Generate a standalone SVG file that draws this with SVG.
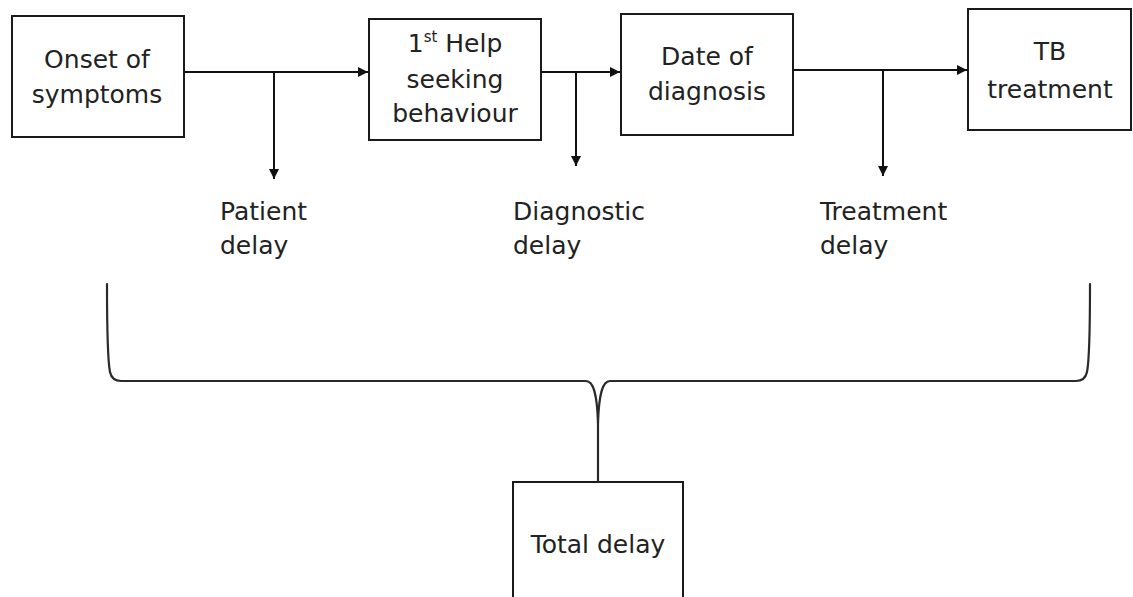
<svg xmlns="http://www.w3.org/2000/svg" width="1133" height="597" viewBox="0 0 1133 597">
  <style>
    .box { fill: #ffffff; stroke: #1a1a1a; stroke-width: 2; }
    .txt { font-family: "DejaVu Sans", "Liberation Sans", sans-serif; font-size: 25px; fill: #222; }
    .mid { text-anchor: middle; }
    .sup { font-size: 15px; }
    .line { fill: none; stroke: #111; stroke-width: 2; }
    .brace { fill: none; stroke: #2a2a2a; stroke-width: 2.2; stroke-linecap: round; stroke-linejoin: round; }
  </style>
  <defs>
    <marker id="arrow" viewBox="0 0 10 10" refX="10" refY="5" markerWidth="5" markerHeight="5" orient="auto" markerUnits="strokeWidth">
      <path d="M0,0 L10,5 L0,10 z" fill="#111"/>
    </marker>
  </defs>
  <rect width="1133" height="597" fill="#ffffff"/>

  <g id="onset">
    <rect class="box" x="12" y="16" width="172" height="121"/>
    <text class="txt mid" x="97" y="68">Onset of</text>
    <text class="txt mid" x="97" y="103">symptoms</text>
  </g>

  <g id="help-seeking">
    <rect class="box" x="369" y="19" width="172" height="121"/>
    <text class="txt mid" x="455" y="52">1<tspan class="sup" dy="-10">st</tspan><tspan dy="10"> Help</tspan></text>
    <text class="txt mid" x="455" y="88">seeking</text>
    <text class="txt mid" x="455" y="122">behaviour</text>
  </g>

  <g id="diagnosis">
    <rect class="box" x="621" y="14" width="172" height="121"/>
    <text class="txt mid" x="707" y="65">Date of</text>
    <text class="txt mid" x="707" y="100">diagnosis</text>
  </g>

  <g id="treatment">
    <rect class="box" x="968" y="9" width="163" height="121"/>
    <text class="txt mid" x="1050" y="60">TB</text>
    <text class="txt mid" x="1050" y="98">treatment</text>
  </g>

  <g id="patient-delay">
    <text class="txt" x="220" y="220">Patient</text>
    <text class="txt" x="220" y="254">delay</text>
  </g>

  <g id="diagnostic-delay">
    <text class="txt" x="513" y="220">Diagnostic</text>
    <text class="txt" x="513" y="254">delay</text>
  </g>

  <g id="treatment-delay">
    <text class="txt" x="820" y="220">Treatment</text>
    <text class="txt" x="820" y="254">delay</text>
  </g>

  <g id="total-delay">
    <rect class="box" x="513" y="482" width="170" height="130"/>
    <text class="txt mid" x="598" y="553">Total delay</text>
  </g>

  <g id="connectors">
    <line class="line" x1="184" y1="72" x2="368" y2="72" marker-end="url(#arrow)"/>
    <line class="line" x1="274" y1="72" x2="274" y2="179" marker-end="url(#arrow)"/>
    <line class="line" x1="541" y1="72" x2="620" y2="72" marker-end="url(#arrow)"/>
    <line class="line" x1="576" y1="72" x2="576" y2="166" marker-end="url(#arrow)"/>
    <line class="line" x1="793" y1="70" x2="967" y2="70" marker-end="url(#arrow)"/>
    <line class="line" x1="883" y1="70" x2="883" y2="176" marker-end="url(#arrow)"/>
    <!-- curly brace gathering all three delays into the total -->
    <path class="brace" d="M107,284 C107,330 108,362 110,372 Q112,381 121,381 L586,381 C593,381 597,392 598,423 L598,482"/>
    <path class="brace" d="M1090,284 C1090,330 1089,362 1087,372 Q1085,381 1076,381 L610,381 C603,381 599,392 598,423"/>
  </g>
</svg>
